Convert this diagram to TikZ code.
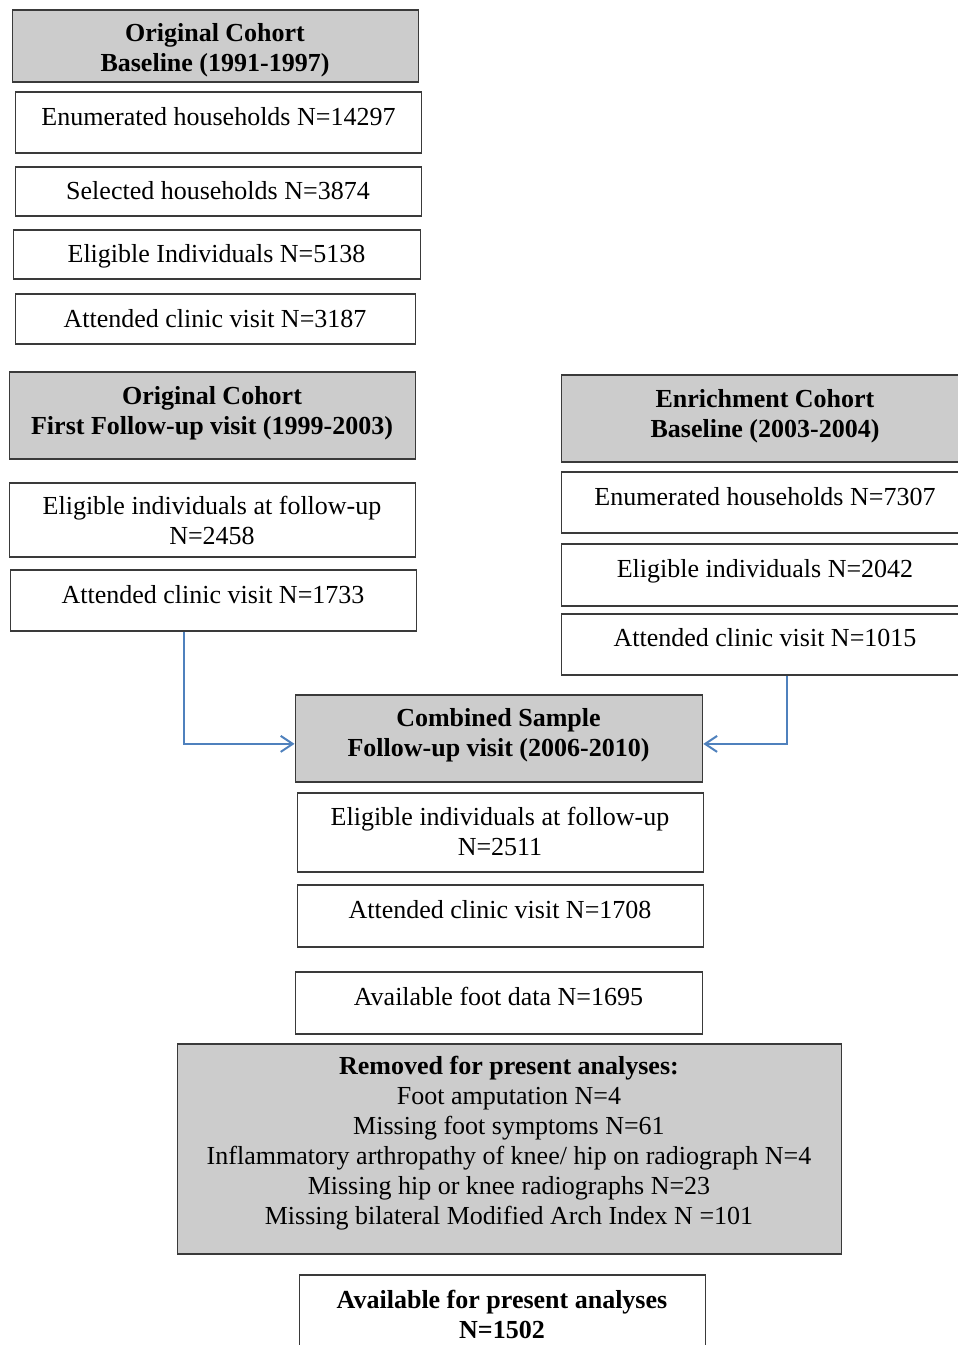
\documentclass[tikz,border=0pt]{standalone}
\usepackage{fontspec}
\setmainfont{Liberation Serif}
\usetikzlibrary{arrows.meta}
\definecolor{boxline}{HTML}{3A3A3A}
\definecolor{hdrfill}{HTML}{CCCCCC}
\definecolor{flowblue}{HTML}{4F81BD}
\tikzset{
  box/.style={draw=boxline, line width=1.8pt, anchor=north west, inner sep=0pt},
  hdr/.style={box, fill=hdrfill},
  txt/.style={inner sep=0pt, font=\fontsize{26}{30}\selectfont, align=center, text=black},
  flow/.style={draw=flowblue, line width=2pt, -{Straight Barb[length=12pt,width=16pt,line width=2pt]}}
}
\newcommand{\mybox}[6]{%
  \node[#1, minimum width={#4-#2}, minimum height={#5-#3}] (#6) at (#2,#3) {};}
\begin{document}
\begin{tikzpicture}[x=1pt,y=-1pt]
\useasboundingbox (0,0) rectangle (958,1345);
\clip (0,0) rectangle (958,1345);
\fill[white] (0,0) rectangle (958,1345);
% original cohort baseline
\mybox{hdr}{11.5}{9}{417.5}{81}{hA}
\node[txt, font=\fontsize{26}{30}\selectfont\bfseries] (thA) at (215,50.5) {Original Cohort\\Baseline (1991-1997)};
\mybox{box}{14.5}{91}{420.5}{152}{bEnum1}
\node[txt, anchor=base] (tEnum1) at (218.5,125) {Enumerated households N=14297};
\mybox{box}{14.5}{166}{420.5}{215}{bSel}
\node[txt, anchor=base] (tSel) at (218,199) {Selected households N=3874};
\mybox{box}{12.5}{229}{419.5}{278}{bElig1}
\node[txt, anchor=base] (tElig1) at (216.5,262) {Eligible Individuals N=5138};
\mybox{box}{14.5}{293}{414.5}{343}{bAtt1}
\node[txt, anchor=base] (tAtt1) at (215,327) {Attended clinic visit N=3187};
% first follow-up
\mybox{hdr}{8.5}{371}{414.5}{458}{hB}
\node[txt, font=\fontsize{26}{30}\selectfont\bfseries] (thB) at (212,413) {Original Cohort\\First Follow-up visit (1999-2003)};
\mybox{box}{8.5}{482}{414.5}{556}{bElig2}
\node[txt] (tElig2) at (212,520.5) {Eligible individuals at follow-up\\N=2458};
\mybox{box}{9.5}{569}{415.5}{630}{bAtt2}
\node[txt, anchor=base] (tAtt2) at (213,603) {Attended clinic visit N=1733};
% enrichment cohort
\mybox{hdr}{560.5}{374}{968.5}{461}{hC}
\node[txt, font=\fontsize{26}{30}\selectfont\bfseries] (thC) at (765,416) {Enrichment Cohort\\Baseline (2003-2004)};
\mybox{box}{560.5}{471}{968.5}{532}{bEnum2}
\node[txt, anchor=base] (tEnum2) at (765,505) {Enumerated households N=7307};
\mybox{box}{560.5}{543}{968.5}{605}{bElig3}
\node[txt, anchor=base] (tElig3) at (765,577) {Eligible individuals N=2042};
\mybox{box}{560.5}{613}{968.5}{674}{bAtt3}
\node[txt, anchor=base] (tAtt3) at (765,646) {Attended clinic visit N=1015};
% combined sample
\mybox{hdr}{294.5}{694}{701.5}{781}{hD}
\node[txt, font=\fontsize{26}{30}\selectfont\bfseries] (thD) at (498.5,735) {Combined Sample\\Follow-up visit (2006-2010)};
\mybox{box}{296.5}{792}{702.5}{871}{bElig4}
\node[txt] (tElig4) at (500,831) {Eligible individuals at follow-up\\N=2511};
\mybox{box}{296.5}{884}{702.5}{946}{bAtt4}
\node[txt, anchor=base] (tAtt4) at (500,918) {Attended clinic visit N=1708};
\mybox{box}{294.5}{971}{701.5}{1033}{bFoot}
\node[txt, anchor=base] (tFoot) at (498.5,1005) {Available foot data N=1695};
\mybox{hdr}{176.5}{1043}{840.5}{1253}{hE}
\node[txt] (thE) at (509,1143) {\textbf{Removed for present analyses:}\\Foot amputation N=4\\Missing foot symptoms N=61\\Inflammatory arthropathy of knee/ hip on radiograph N=4\\Missing hip or knee radiographs N=23\\Missing bilateral Modified Arch Index N =101};
\mybox{box}{298.5}{1274}{704.5}{1362}{bFinal}
\node[txt, font=\fontsize{26}{30}\selectfont\bfseries] (tFinal) at (502,1314) {Available for present analyses\\N=1502};
% connectors
\draw[flow] ([xshift=-29.5pt]bAtt2.south) |- ([yshift=-5.5pt]hD.west);
\draw[flow] ([xshift=21.5pt]bAtt3.south) |- ([yshift=-5.5pt]hD.east);
\end{tikzpicture}
\end{document}
